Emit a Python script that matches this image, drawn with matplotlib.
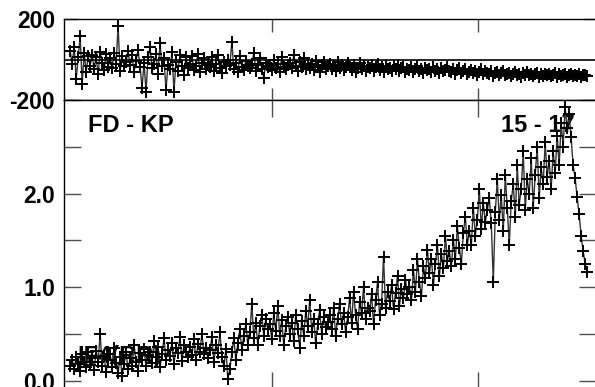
import numpy as np
import matplotlib
matplotlib.use("Agg")
from matplotlib import pyplot as plt

# ratio values, left to right
ratio = [
    0.15, 0.22, 0.12, 0.25, 0.18, 0.10, 0.28, 0.20, 0.14, 0.30,
    0.17, 0.24, 0.11, 0.32, 0.20, 0.50, 0.16, 0.26, 0.09, 0.22,
    0.28, 0.14, 0.35, 0.19, 0.08, 0.25, 0.05, 0.18, 0.30, 0.12,
    0.24, 0.16, 0.38, 0.20, 0.10, 0.29, 0.22, 0.34, 0.15, 0.27,
    0.31, 0.19, 0.42, 0.25, 0.36, 0.14, 0.28, 0.45, 0.22, 0.33,
    0.26, 0.40, 0.18, 0.35, 0.29, 0.47, 0.21, 0.38, 0.30, 0.25,
    0.36, 0.27, 0.44, 0.22, 0.39, 0.31, 0.50, 0.28, 0.35, 0.24,
    0.33, 0.46, 0.20, 0.38, 0.29, 0.52, 0.25, 0.15, 0.34, 0.02,
    0.12, 0.30, 0.45, 0.22, 0.40, 0.55, 0.33, 0.48, 0.60, 0.38,
    0.52, 0.82, 0.45, 0.62, 0.38, 0.58, 0.70, 0.48, 0.66, 0.55,
    0.60, 0.44, 0.72, 0.53, 0.80, 0.48, 0.65, 0.38, 0.58, 0.68,
    0.50, 0.62, 0.42, 0.70, 0.55, 0.35, 0.64, 0.48, 0.74, 0.58,
    0.86, 0.52, 0.66, 0.40, 0.60, 0.75, 0.50, 0.68, 0.57, 0.63,
    0.70, 0.55, 0.78, 0.48, 0.66, 0.82, 0.60, 0.72, 0.52, 0.68,
    0.88, 0.62, 0.95, 0.70, 0.55, 0.84, 0.72, 1.00, 0.66, 0.78,
    0.74, 0.92, 0.60, 0.86, 1.05, 0.70, 0.82, 1.32, 0.78, 0.95,
    0.85, 1.02, 0.76, 0.94, 1.12, 0.80, 0.98, 0.88, 1.08, 0.92,
    1.00, 0.86, 1.18, 0.95, 1.30, 1.05, 0.90, 1.22, 1.10, 1.40,
    1.15, 1.30, 1.02, 1.25, 1.45, 1.12, 1.35, 1.20, 1.55, 1.28,
    1.38, 1.22, 1.50, 1.30, 1.65, 1.42, 1.25, 1.58, 1.75, 1.45,
    1.60, 1.45, 1.85, 1.55, 1.72, 2.05, 1.62, 1.90, 1.70, 1.82,
    1.95, 1.68, 1.05, 1.80, 2.15, 1.72, 1.98, 1.60, 2.20, 1.85,
    1.45, 1.92, 2.10, 1.75, 2.30, 1.88, 2.05, 2.45, 1.82, 2.15,
    2.00, 2.38, 1.85, 2.20, 2.50, 1.95, 2.28, 2.10, 2.55, 2.18,
    2.35, 2.05, 2.45, 2.22, 2.62, 2.30, 2.75, 2.50, 2.92, 2.70,
    2.85, 2.60, 2.30, 2.17, 1.96, 1.78, 1.55, 1.39, 1.25, 1.16,
]

# residuals for the upper panel
resid = [
    40, -20, 60, -95, 10, 115, -120, 30, -60, 15,
    -30, 20, -45, 10, -70, 35, -15, -50, 25, -35,
    5, -40, 30, -20, 165, -55, 15, -30, -10, 40,
    -25, 20, -60, -5, 45, -35, -140, -15, -160, 10,
    60, -40, -20, 25, -70, 80, -30, 5, -150, -25,
    -45, 35, -160, -10, -55, 20, -30, -75, 10, -40,
    -20, 15, -50, -30, 25, -60, -15, 5, -45, -25,
    -35, 10, -55, -20, 20, -40, -65, -10, -30, 0,
    -25, 86, -45, -15, -60, 15, -35, -50, -5, -30,
    -40, -20, 30, -55, -25, 5, -45, -90, -15, -35,
    -30, -50, 0, -40, -20, -60, 10, -35, -45, -25,
    -15, -40, 20, -30, -55, -10, -35, 5, -45, -25,
    -40, -20, -50, -5, -35, -60, -25, -10, -45, -30,
    -20, -45, -30, -55, -10, -40, -25, -50, -35, -15,
    -35, -50, -25, -60, -40, -15, -45, -30, -55, -38,
    -42, -28, -55, -35, -20, -50, -38, -60, -30, -45,
    -40, -55, -32, -48, -25, -58, -42, -35, -62, -45,
    -50, -38, -60, -45, -30, -55, -48, -65, -40, -52,
    -45, -60, -38, -55, -48, -68, -42, -58, -50, -35,
    -55, -62, -45, -70, -52, -40, -65, -58, -48, -72,
    -60, -50, -68, -55, -75, -62, -48, -70, -58, -65,
    -72, -55, -80, -65, -60, -78, -68, -58, -75, -70,
    -66, -80, -70, -62, -78, -72, -85, -68, -75, -64,
    -76, -70, -82, -72, -66, -84, -74, -80, -70, -78,
    -72, -82, -76, -68, -85, -74, -80, -78, -70, -84,
    -78, -74, -82, -76, -80, -72, -84, -78, -76, -80,
]

x = np.linspace(0.02, 2.53, len(ratio))

plt.rcParams['font.family'] = ['Liberation Sans', 'DejaVu Sans']
plt.rcParams['font.weight'] = 'bold'
fs = 16.5

fig = plt.figure(figsize=(5.95, 3.87), dpi=100)
ax1 = fig.add_axes([0.1076, 0.7416, 0.894, 0.2093])
ax2 = fig.add_axes([0.1076, -0.0052, 0.894, 0.7468])

for ax in (ax1, ax2):
    ax.set_xlim(-0.01, 2.573)
    ax.set_xticks([1, 2])
    ax.tick_params(axis='both', direction='in', top=True, right=True,
                   labelbottom=False, labelsize=fs, pad=6.5,
                   width=1, color='0.3')
    for s in ax.spines.values():
        s.set_linewidth(1)

# residual panel
ax1.plot(x, resid, color='0.2', lw=1.0, marker='+', ms=9, mew=1.4,
         mec='black')
ax1.axhline(0, color='black', lw=1.2)
ax1.set_ylim(-200, 200)
ax1.set_yticks([-200, 200])
ax1.set_yticklabels(['-200', '200'])
ax1.tick_params(axis='x', length=9)
ax1.tick_params(axis='y', length=9)

# ratio panel
ax2.text(0.026, 0.111, 'IF4(RR)', transform=ax2.transAxes, fontsize=17,
         fontweight='bold', va='center', ha='left', zorder=1)
ax2.plot(x, ratio, color='0.2', lw=1.0, marker='+', ms=9, mew=1.4,
         mec='black', zorder=3)
ax2.set_ylim(-0.091, 3.0)
ax2.set_yticks([0, 0.5, 1, 1.5, 2, 2.5, 3])
ax2.set_yticklabels(['0.0', '', '1.0', '', '2.0', '', ''])
ax2.tick_params(axis='both', length=12)
ax2.text(0.045, 0.9135, 'FD - KP', transform=ax2.transAxes, fontsize=17,
         fontweight='bold', va='center', ha='left')
ax2.text(0.9605, 0.9135, '15 - 17', transform=ax2.transAxes, fontsize=17,
         fontweight='bold', va='center', ha='right', zorder=2)

fig.savefig('out.png', dpi=100)
